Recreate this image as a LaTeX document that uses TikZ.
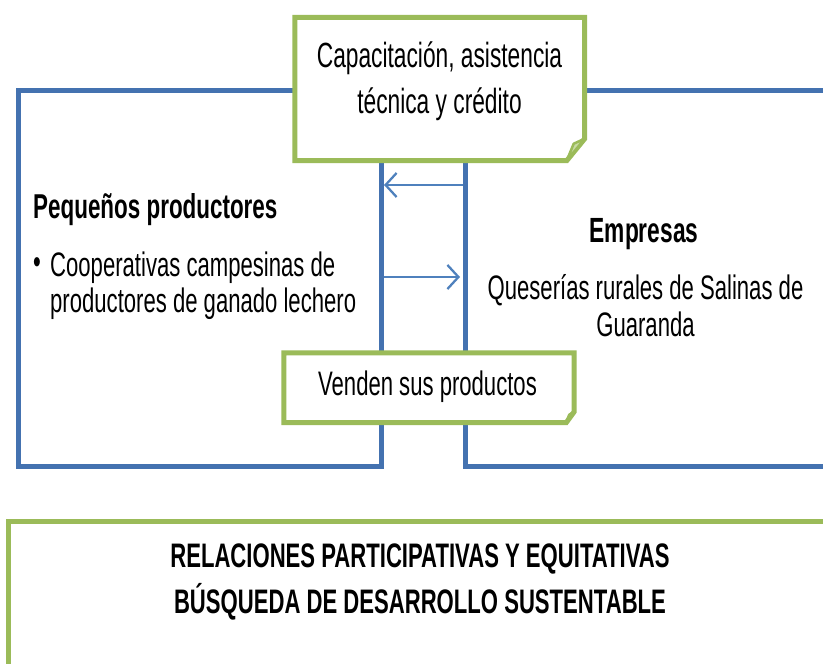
\documentclass[tikz,border=0pt]{standalone}
\usepackage{fontspec}
\setmainfont{Liberation Sans}[FakeStretch=0.65]
\usetikzlibrary{arrows.meta}
\definecolor{boxblue}{RGB}{68,114,176}
\definecolor{arrblue}{RGB}{79,129,189}
\definecolor{notegreen}{RGB}{155,187,89}
\begin{document}
\begin{tikzpicture}[x=1pt,y=-1pt,
  bluebox/.style={draw=boxblue, line width=5pt, fill=white, inner sep=0pt, rectangle},
  notefill/.style={fill=white, draw=none, inner sep=0pt, rectangle},
  noteline/.style={draw=notegreen, line width=5pt, line join=miter},
  foldfill/.style={fill=notegreen!55, draw=notegreen, line width=2.5pt, line join=round},
  greenbox/.style={draw=notegreen, line width=5pt, fill=white, inner sep=0pt, rectangle},
  arr/.style={draw=arrblue, line width=2.3pt, -{Straight Barb[length=11pt, width=24pt, line width=2.3pt]}},
  txt/.style={inner sep=0pt, font=\fontsize{34}{38}\selectfont},
  btxt/.style={inner sep=0pt, font=\fontsize{34.5}{40}\selectfont\bfseries}
]
\useasboundingbox (0,0) rectangle (823,664);
\clip (0,0) rectangle (823,664);

% blue boxes
\node[bluebox, minimum width=363pt, minimum height=376pt] (left) at (200,278) {};
\node[bluebox, minimum width=500pt, minimum height=376pt] (right) at (715.5,278) {};

% bottom green box
\node[greenbox, minimum width=900pt, minimum height=200pt] (bottom) at (458,621) {};

% arrows
\coordinate (yup) at (0,185);
\coordinate (ydown) at (0,277);
\coordinate (tipdown) at (460,277);
\draw[arr] (right.west |- yup) -- (left.east |- yup);
\draw[arr] (left.east |- ydown) -- (tipdown);

% top note
\node[notefill, minimum width=289.5pt, minimum height=143pt] (top) at (439.75,89) {};
\draw[noteline] (top.north west) -- (top.north east) -- ([yshift=22pt]top.south east)
  -- ([xshift=-18pt]top.south east) -- (top.south west) -- cycle;
\draw[foldfill] ([yshift=22pt]top.south east) -- ([xshift=-11pt,yshift=17pt]top.south east)
  -- ([xshift=-18pt]top.south east) -- cycle;
\node[txt, align=center, font=\fontsize{35}{46}\selectfont] (toptxt) at (439.5,81)
  {Capacitación, asistencia\\técnica y crédito};

% bottom-of-boxes note
\node[notefill, minimum width=290pt, minimum height=69.5pt] (sell) at (429,387.75) {};
\draw[noteline] (sell.north west) -- (sell.north east) -- ([yshift=11pt]sell.south east)
  -- ([xshift=-8pt]sell.south east) -- (sell.south west) -- cycle;
\draw[foldfill] ([yshift=11pt]sell.south east) -- ([xshift=-5pt,yshift=8pt]sell.south east)
  -- ([xshift=-8pt]sell.south east) -- cycle;
\node[txt] (selltxt) at (427.5,387) {Venden sus productos};

% left box texts
\node[btxt, anchor=west] (peq) at (33,210) {Pequeños productores};
\node[txt] (bul) at (37,266) {•};
\node[txt, anchor=west, align=left, font=\fontsize{34}{35.5}\selectfont] (coop) at (50,285.5)
  {Cooperativas campesinas de\\productores de ganado lechero};

% right box texts
\node[btxt, font=\fontsize{35}{40}\selectfont\bfseries] (emp) at (644,234) {Empresas};
\node[txt, align=center, font=\fontsize{34}{37}\selectfont] (ques) at (645.5,305.5)
  {Queserías rurales de Salinas de\\Guaranda};

% bottom text
\node[btxt, align=center, font=\fontsize{34}{46}\selectfont\bfseries] (rel) at (420,582)
  {RELACIONES PARTICIPATIVAS Y EQUITATIVAS\\BÚSQUEDA DE DESARROLLO SUSTENTABLE};
\end{tikzpicture}
\end{document}
